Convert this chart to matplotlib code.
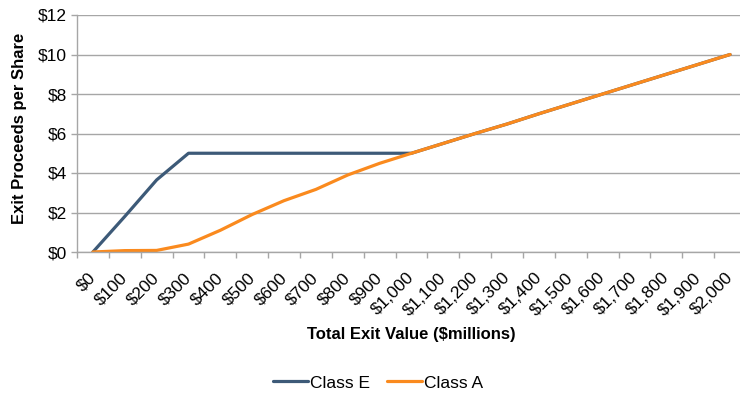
import matplotlib
matplotlib.use('Agg')
import matplotlib.pyplot as plt
import matplotlib.transforms as mtransforms
import numpy as np

plt.rcParams['font.family'] = ['Liberation Sans', 'DejaVu Sans']

exit_values = ['$0', '$100', '$200', '$300', '$400', '$500', '$600', '$700',
               '$800', '$900', '$1,000', '$1,100', '$1,200', '$1,300',
               '$1,400', '$1,500', '$1,600', '$1,700', '$1,800', '$1,900',
               '$2,000']
class_e = [0, 1.8, 3.65, 5.0, 5.0, 5.0, 5.0, 5.0, 5.0, 5.0, 5.0, 5.5, 6.0,
           6.48, 7.0, 7.5, 8.0, 8.5, 9.0, 9.5, 10.0]
class_a = [0, 0.07, 0.08, 0.4, 1.1, 1.9, 2.6, 3.17, 3.9, 4.49, 5.0, 5.5, 6.0,
           6.48, 7.0, 7.5, 8.0, 8.5, 9.0, 9.5, 10.0]
y_ticks = [0, 2, 4, 6, 8, 10, 12]

BLUE = '#3D5A78'
ORANGE = '#FA8A1E'
GRID = '#A6A6A6'

fig = plt.figure(figsize=(7.4, 3.93), dpi=100)
ax = fig.add_axes([77 / 740, 141 / 393, 669 / 740, 237 / 393])

x = np.arange(len(exit_values))
ax.plot(x, class_e, color=BLUE, lw=2.3, label='Class E', solid_capstyle='round')
ax.plot(x, class_a, color=ORANGE, lw=2.3, label='Class A', solid_capstyle='round')

ax.set_xlim(-0.5, len(exit_values) - 0.5)
ax.set_ylim(0, 12)
ax.set_yticks(y_ticks)
ax.set_yticklabels([f'${v}' for v in y_ticks], fontsize=12.5)
ax.yaxis.grid(True, color=GRID, lw=1)
ax.set_axisbelow(True)

ax.set_xticks(x)
ax.set_xticklabels(exit_values, fontsize=12.5, rotation=45, ha='right',
                   va='top', rotation_mode='anchor')
ax.set_xticks(np.arange(-0.5, len(exit_values)), minor=True)
ax.tick_params(axis='x', which='major', length=0, pad=13)
ax.tick_params(axis='x', which='minor', length=4, color=GRID, width=1)
ax.tick_params(axis='y', length=4, color=GRID, width=1, pad=3)

# nudge rotated labels left so their ends sit under the points
shift = mtransforms.ScaledTranslation(-5 / 100, 0, fig.dpi_scale_trans)
for lbl in ax.get_xticklabels():
    lbl.set_transform(lbl.get_transform() + shift)

for side in ['top', 'right']:
    ax.spines[side].set_visible(False)
for side in ['left', 'bottom']:
    ax.spines[side].set_color(GRID)
    ax.spines[side].set_linewidth(1)

ax.set_xlabel('Total Exit Value ($millions)', fontsize=12, fontweight='bold')
ax.xaxis.set_label_coords(0.5, -0.346)
ax.xaxis.label.set_va('center')
ax.set_ylabel('Exit Proceeds per Share', fontsize=12, fontweight='bold')
ax.yaxis.set_label_coords(-0.086, 0.523)
ax.yaxis.label.set_va('center')

fig.legend(loc='center', bbox_to_anchor=(378 / 740, 1 - 383 / 393), ncol=2,
           frameon=False, fontsize=12.5, handlelength=2.0, handletextpad=0.1,
           columnspacing=1.0)

fig.savefig('out.png', dpi=100)
